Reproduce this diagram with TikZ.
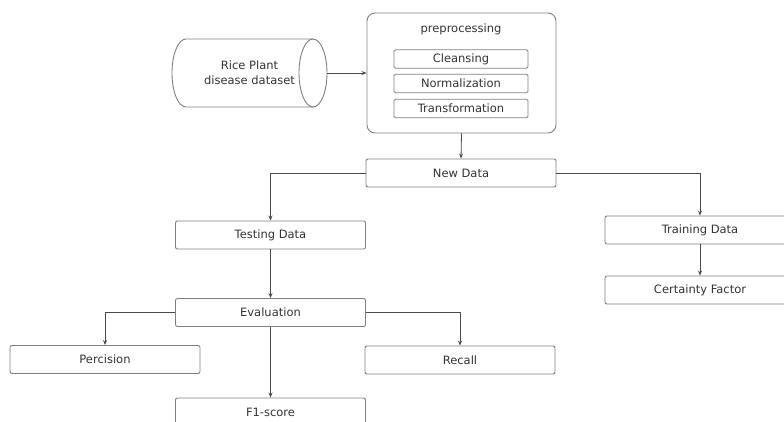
\documentclass[tikz,border=0pt]{standalone}
\usepackage{fontspec}
\setmainfont{DejaVu Sans}
\usepackage{tikz}
\usetikzlibrary{positioning,arrows.meta}
\usepackage{xcolor}
\definecolor{boxgray}{HTML}{7F7F7F}
\definecolor{linegray}{HTML}{4A4A4A}
\definecolor{textgray}{HTML}{333333}

\begin{document}
\begin{tikzpicture}[
  x=1pt, y=-1pt,
  every node/.style={font=\fontsize{11.5}{15}\selectfont, text=textgray},
  box/.style={draw=boxgray, line width=0.9pt, rounded corners=2pt, minimum width=190pt, minimum height=28pt, inner sep=0pt, align=center},
  subbox/.style={draw=boxgray, line width=0.9pt, rounded corners=1.5pt, minimum width=134pt, minimum height=18.5pt, inner sep=0pt},
  group/.style={draw=boxgray, line width=0.9pt, rounded corners=8pt, minimum width=189pt, minimum height=120pt, inner sep=0pt},
  storetext/.style={minimum width=155pt, minimum height=68pt, inner sep=0pt, align=center},
  outline/.style={draw=boxgray, line width=0.9pt},
  arrow/.style={-{Stealth[length=5pt, width=4pt]}, draw=linegray, line width=0.8pt}
]

\useasboundingbox (0,0) rectangle (784,421);
\clip (0,0) rectangle (784,421);

% dataset drum
\draw[outline] (313,39) -- (186,39) arc[start angle=90, end angle=270, x radius=14pt, y radius=34pt] -- (313,107);
\draw[outline] (313,73) ellipse [x radius=14pt, y radius=34pt];
\node[storetext] (dataset) at (249.5,73) {Rice Plant\\disease dataset};

\node[group] (prep) at (461.5,73) {};
\node (preplabel) at (461,29) {preprocessing};
\node[subbox] (cleansing) at (461,59) {Cleansing};
\node[subbox] (normal) at (461,83.5) {Normalization};
\node[subbox] (transform) at (461,108.5) {Transformation};

\node[box] (newdata) at (461,173) {New Data};
\node[box] (testing) at (270.5,235) {Testing Data};
\node[box] (training) at (700,230) {Training Data};
\node[box] (certainty) at (700,290) {Certainty Factor};

\node[box] (eval) at (270.5,312.5) {Evaluation};
\node[box] (percision) at (105,359.5) {Percision};
\node[box] (recall) at (460,360) {Recall};
\node[box] (fscore) at (270.5,412) {F1-score};

\draw[arrow] (dataset.east) -- (prep.west);
\draw[arrow] (prep.south) -- (newdata.north);
\draw[arrow] (newdata.west) -| (testing.north);
\draw[arrow] (newdata.east) -| (training.north);
\draw[arrow] (training.south) -- (certainty.north);
\draw[arrow] (testing.south) -- (eval.north);
\draw[arrow] (eval.west) -| (percision.north);
\draw[arrow] (eval.east) -| (recall.north);
\draw[arrow] (eval.south) -- (fscore.north);

\end{tikzpicture}
\end{document}
